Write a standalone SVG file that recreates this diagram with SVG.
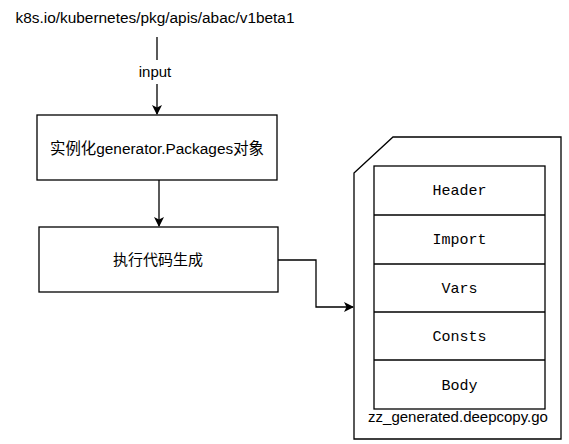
<svg xmlns="http://www.w3.org/2000/svg" width="569" height="444" viewBox="0 0 569 444">
<style>
.s{font-family:"Liberation Sans","Noto Sans CJK SC",Arial,sans-serif;font-size:15px;fill:#000}
.l{font-size:15.4px}
.m{font-family:"Liberation Mono","Courier New",monospace;font-size:15px;fill:#000}
.b{fill:#fff;stroke:#000;stroke-width:1.3}
.c{fill:none;stroke:#000;stroke-width:1.3}
</style>
<defs>
<marker id="a" markerWidth="10" markerHeight="10" refX="9" refY="5" orient="auto" markerUnits="userSpaceOnUse">
<path d="M0,0 L10,5 L0,10 L2.5,5 Z" fill="#000"/>
</marker>
</defs>
<rect width="569" height="444" fill="#fff"/>
<g id="src">
<text class="s l" x="155" y="23" text-anchor="middle">k8s.io/kubernetes/pkg/apis/abac/v1beta1</text>
</g>
<g id="connectors">
<line class="c" x1="157" y1="37" x2="157" y2="60"/>
<line class="c" x1="157" y1="84" x2="157" y2="114" marker-end="url(#a)"/>
<text class="s" x="155" y="77" text-anchor="middle">input</text>
<line class="c" x1="159" y1="180" x2="159" y2="226" marker-end="url(#a)"/>
<polyline class="c" points="278,260 316,260 316,307 353,307" marker-end="url(#a)"/>
</g>
<g id="n1">
<rect class="b" x="37" y="115" width="240" height="65"/>
<text class="s l" x="157" y="154" text-anchor="middle">实例化generator.Packages对象</text>
</g>
<g id="n2">
<rect class="b" x="39" y="227" width="239" height="65"/>
<text class="s" x="158" y="265" text-anchor="middle">执行代码生成</text>
</g>
<g id="file">
<path class="b" d="M354,173 L393,137 L561,137 L561,439 L354,439 Z"/>
<rect class="b" x="374" y="166" width="171" height="243"/>
<line class="c" x1="374" y1="215" x2="545" y2="215"/>
<line class="c" x1="374" y1="264" x2="545" y2="264"/>
<line class="c" x1="374" y1="312" x2="545" y2="312"/>
<line class="c" x1="374" y1="360" x2="545" y2="360"/>
<text class="m" x="459.5" y="195" text-anchor="middle">Header</text>
<text class="m" x="459.5" y="244" text-anchor="middle">Import</text>
<text class="m" x="459.5" y="293" text-anchor="middle">Vars</text>
<text class="m" x="459.5" y="341" text-anchor="middle">Consts</text>
<text class="m" x="459.5" y="390" text-anchor="middle">Body</text>
<text class="s" x="458" y="422" text-anchor="middle">zz_generated.deepcopy.go</text>
</g>
</svg>
